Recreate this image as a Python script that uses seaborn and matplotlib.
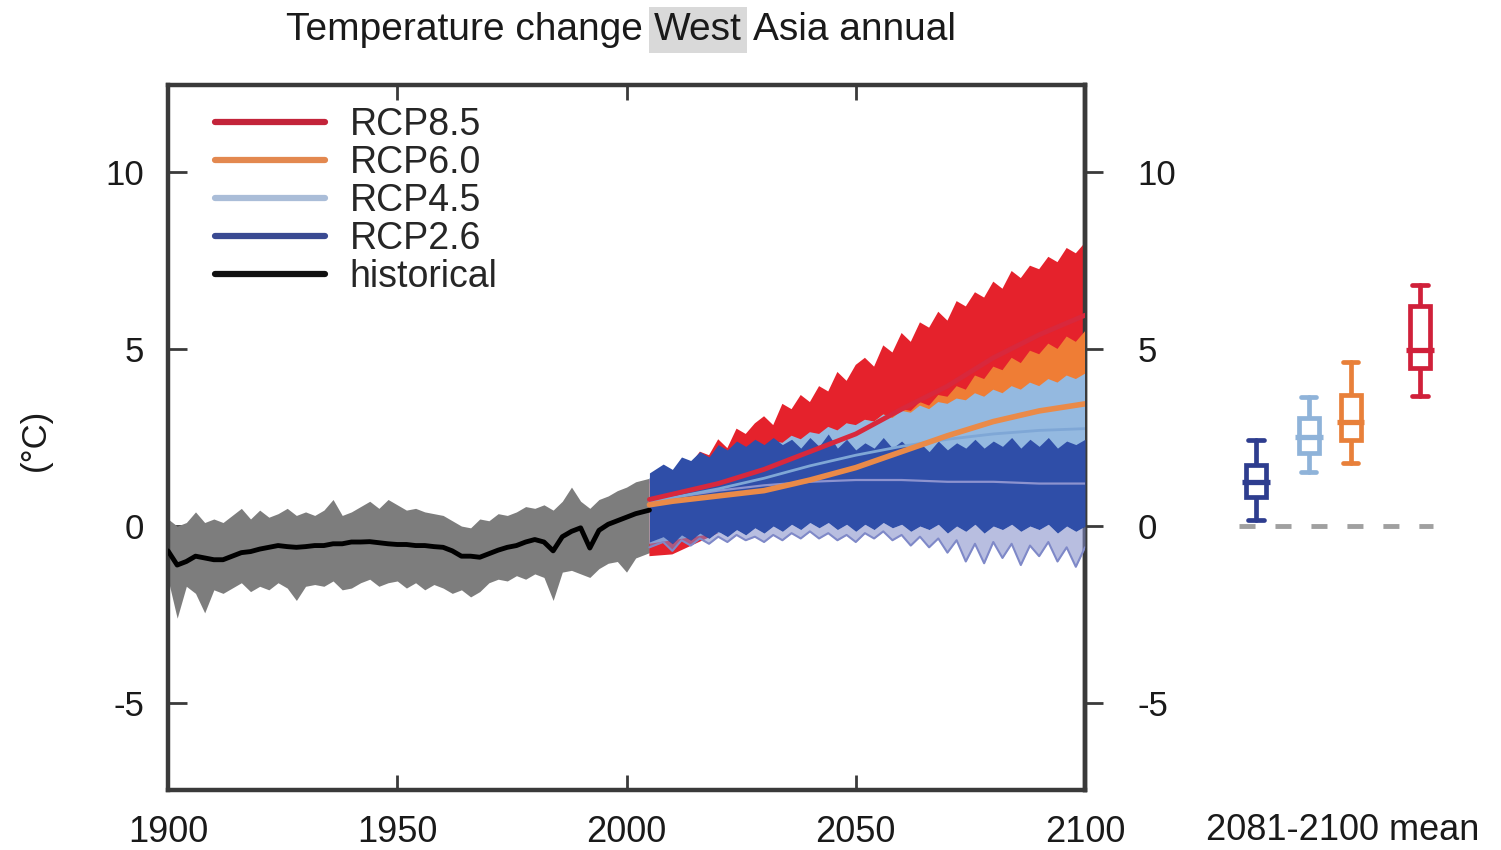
import numpy as np
import matplotlib
matplotlib.use("Agg")
import matplotlib.pyplot as plt
from matplotlib.lines import Line2D
import seaborn as sns

# ---------------- data (°C, relative to 1986-2005) ----------------
hist_years = np.append(np.arange(1900, 2003, 2), 2005)
hist_upper = [0.2, 0.0, 0.1, 0.4, 0.1, 0.2, 0.1, 0.3, 0.5, 0.2,
              0.45, 0.25, 0.35, 0.5, 0.3, 0.4, 0.3, 0.45, 0.75, 0.3,
              0.4, 0.55, 0.7, 0.5, 0.75, 0.6, 0.45, 0.5, 0.4, 0.35,
              0.3, 0.15, 0.0, -0.05, 0.2, 0.15, 0.35, 0.3, 0.4, 0.55,
              0.5, 0.6, 0.45, 0.7, 1.1, 0.7, 0.5, 0.75, 0.85, 1.0,
              1.1, 1.25, 1.35]
hist_lower = [-1.5, -2.6, -1.7, -1.9, -2.45, -1.8, -1.9, -1.75, -1.6, -1.85,
              -1.7, -1.8, -1.6, -1.75, -2.1, -1.7, -1.65, -1.7, -1.55, -1.8,
              -1.75, -1.6, -1.5, -1.7, -1.6, -1.55, -1.75, -1.6, -1.8, -1.65,
              -1.75, -1.9, -1.8, -2.0, -1.85, -1.6, -1.5, -1.55, -1.4, -1.5,
              -1.35, -1.45, -2.1, -1.3, -1.25, -1.35, -1.45, -1.2, -1.05, -1.0,
              -1.3, -0.9, -0.75]
hist_mean = [-0.7, -1.1, -1.0, -0.85, -0.9, -0.95, -0.95, -0.85, -0.75, -0.72,
             -0.65, -0.6, -0.55, -0.58, -0.6, -0.58, -0.55, -0.55, -0.5, -0.5,
             -0.45, -0.45, -0.44, -0.47, -0.5, -0.52, -0.52, -0.55, -0.55, -0.58,
             -0.6, -0.7, -0.85, -0.85, -0.88, -0.78, -0.68, -0.6, -0.55, -0.45,
             -0.38, -0.45, -0.7, -0.3, -0.15, -0.05, -0.62, -0.12, 0.05, 0.15,
             0.25, 0.35, 0.45]

proj_years = np.append(2005, np.arange(2008, 2101, 2))
coarse_years = [2005, 2010, 2020, 2030, 2040, 2050, 2060, 2070, 2080, 2090, 2100]

rcp85_upper = [1.3, 1.7, 1.45, 1.9, 1.75, 2.1, 2.0, 2.45, 2.2, 2.75,
               2.6, 2.9, 3.1, 2.85, 3.45, 3.3, 3.7, 3.5, 3.95, 3.8,
               4.35, 4.1, 4.55, 4.75, 4.5, 5.1, 4.9, 5.45, 5.2, 5.75,
               5.6, 6.05, 5.8, 6.35, 6.2, 6.6, 6.45, 6.9, 6.7, 7.2,
               7.0, 7.35, 7.25, 7.6, 7.45, 7.85, 7.7, 8.0]
rcp85_lower = [-0.85, -0.8, -0.2, 0.4, 1.0, 1.7, 2.4, 3.0, 3.5, 3.9, 4.2]
rcp85_mean = [0.75, 0.9, 1.2, 1.6, 2.1, 2.6, 3.3, 3.95, 4.75, 5.4, 5.95]

rcp60_upper = [1.2, 1.45, 1.3, 1.6, 1.5, 1.75, 1.6, 1.9, 1.8, 2.05,
               1.95, 2.2, 2.1, 2.35, 2.25, 2.5, 2.4, 2.6, 2.5, 2.75,
               2.65, 2.9, 2.8, 3.0, 2.95, 3.15, 3.1, 3.3, 3.25, 3.5,
               3.4, 3.7, 3.65, 3.95, 3.85, 4.25, 4.15, 4.5, 4.4, 4.75,
               4.6, 4.95, 4.85, 5.15, 5.0, 5.35, 5.2, 5.5]
rcp60_lower = [-0.4, -0.3, 0.0, 0.3, 0.6, 1.0, 1.4, 1.8, 2.1, 2.4, 2.6]
rcp60_mean = [0.6, 0.7, 0.85, 1.0, 1.3, 1.65, 2.1, 2.55, 2.95, 3.25, 3.45]

rcp45_upper = [1.35, 1.6, 1.5, 1.75, 1.65, 1.9, 1.8, 2.0, 1.95, 2.15,
               2.05, 2.3, 2.2, 2.4, 2.35, 2.55, 2.45, 2.65, 2.6, 2.8,
               2.7, 2.9, 2.85, 3.0, 2.95, 3.15, 3.05, 3.25, 3.2, 3.4,
               3.3, 3.5, 3.45, 3.6, 3.55, 3.75, 3.65, 3.85, 3.75, 3.95,
               3.85, 4.05, 3.95, 4.15, 4.05, 4.25, 4.15, 4.3]
rcp45_lower = [-0.5, -0.4, -0.2, 0.0, 0.3, 0.5, 0.7, 0.8, 0.9, 1.0, 1.0]
rcp45_mean = [0.7, 0.8, 1.05, 1.35, 1.7, 2.0, 2.25, 2.45, 2.6, 2.7, 2.75]

rcp26_upper = [1.5, 1.75, 1.6, 1.95, 1.85, 2.1, 1.95, 2.3, 2.15, 2.4,
               2.25, 2.45, 2.3, 2.5, 2.3, 2.45, 2.2, 2.5, 2.25, 2.6,
               2.2, 2.45, 2.15, 2.35, 2.2, 2.5, 2.2, 2.4, 2.15, 2.35,
               2.1, 2.4, 2.15, 2.35, 2.2, 2.45, 2.2, 2.4, 2.25, 2.5,
               2.2, 2.45, 2.25, 2.5, 2.2, 2.4, 2.3, 2.45]
rcp26_lower = [-0.45, -0.3, -0.5, -0.25, -0.4, -0.2, -0.35, -0.15, -0.3, -0.1,
               -0.25, -0.05, -0.2, 0.0, -0.15, 0.05, -0.1, 0.1, -0.05, 0.1,
               -0.1, 0.05, -0.15, 0.05, -0.1, 0.1, -0.05, 0.05, -0.15, 0.0,
               -0.1, 0.05, -0.2, 0.0, -0.15, 0.05, -0.2, 0.0, -0.1, 0.05,
               -0.15, 0.0, -0.1, 0.05, -0.2, 0.0, -0.15, 0.0]
rcp26_min = [-0.6, -0.45, -0.7, -0.4, -0.55, -0.35, -0.5, -0.3, -0.45, -0.25,
             -0.4, -0.3, -0.45, -0.25, -0.4, -0.2, -0.35, -0.15, -0.35, -0.2,
             -0.4, -0.25, -0.45, -0.2, -0.35, -0.15, -0.4, -0.25, -0.55, -0.3,
             -0.6, -0.35, -0.75, -0.4, -1.0, -0.5, -1.05, -0.45, -0.9, -0.5,
             -1.1, -0.55, -0.85, -0.45, -1.0, -0.6, -1.15, -0.6]
rcp26_mean = [0.7, 0.8, 1.0, 1.15, 1.25, 1.3, 1.3, 1.25, 1.25, 1.2, 1.2]

# 2081-2100 mean change: 5th, 25th, 50th, 75th, 95th percentiles
scenarios = ["RCP2.6", "RCP4.5", "RCP6.0", "RCP8.5"]
forcing = [2.6, 4.5, 6.0, 8.5]
box_p05 = [0.17, 1.53, 1.77, 3.67]
box_p25 = [0.83, 2.05, 2.43, 4.45]
box_p50 = [1.25, 2.52, 2.95, 4.97]
box_p75 = [1.72, 3.04, 3.70, 6.20]
box_p95 = [2.43, 3.65, 4.64, 6.81]

x_ticks = [1900, 1950, 2000, 2050, 2100]
y_ticks = [-5, 0, 5, 10]

# ---------------- style ----------------
sns.set_theme(style="white")
plt.rcParams["font.family"] = ["Liberation Sans", "DejaVu Sans"]
plt.rcParams["axes.unicode_minus"] = False

C_RED, C_ORANGE, C_LBLUE, C_BLUE, C_LAV = "#e5222c", "#ef7d35", "#94b9e0", "#2f4ea8", "#7f89c8"
C_GREY = "#7d7d7d"
BOX_COLORS = ["#2e3d8f", "#8fb3d9", "#e8803a", "#d0203a"]
LEG_COLORS = {"RCP8.5": "#c3243a", "RCP6.0": "#e3884f", "RCP4.5": "#aabdd8",
              "RCP2.6": "#3a4a92", "historical": "#111111"}
SPINE = "#3a3a3a"

fig = plt.figure(figsize=(15.01, 8.5), dpi=100)
ax = fig.add_axes([168 / 1501, 1 - 790 / 850, 917 / 1501, 705 / 850])
ylim = (-7.45, 12.45)

# historical ensemble spread and mean
ax.fill_between(hist_years, hist_lower, hist_upper, color=C_GREY, lw=0, zorder=1)


def spread(upper_x, upper, lower_x, lower, color, z):
    xs = np.concatenate([upper_x, np.asarray(lower_x)[::-1]])
    ys = np.concatenate([upper, np.asarray(lower)[::-1]])
    ax.fill(xs, ys, color=color, lw=0, zorder=z)


spread(proj_years, rcp85_upper, coarse_years, rcp85_lower, C_RED, 2)
spread(proj_years, rcp60_upper, coarse_years, rcp60_lower, C_ORANGE, 3)
spread(proj_years, rcp45_upper, coarse_years, rcp45_lower, C_LBLUE, 4)
ax.fill_between(proj_years, rcp26_min, rcp26_lower, color=C_LAV, alpha=0.55, lw=0, zorder=5)
ax.plot(proj_years, rcp26_min, color=C_LAV, lw=1.5, zorder=5)
ax.fill_between(proj_years, rcp26_lower, rcp26_upper, color=C_BLUE, lw=0, zorder=6)

sns.lineplot(x=coarse_years, y=rcp26_mean, color="#8d93cf", lw=1.6, ax=ax, zorder=7)
sns.lineplot(x=coarse_years, y=rcp45_mean, color="#7fa7d6", lw=2.0, ax=ax, zorder=7)
sns.lineplot(x=coarse_years, y=rcp60_mean, color="#ea8a48", lw=4.0, ax=ax, zorder=8)
sns.lineplot(x=coarse_years, y=rcp85_mean, color="#d8283c", lw=3.5, ax=ax, zorder=9)
sns.lineplot(x=hist_years, y=hist_mean, color="black", lw=3.5, ax=ax, zorder=10)

ax.set_xlim(1900, 2100)
ax.set_ylim(*ylim)
ax.set_xticks(x_ticks)
ax.set_yticks(y_ticks)
ax.set_xlabel("")
ax.set_ylabel("")
for s in ax.spines.values():
    s.set_color(SPINE)
    s.set_linewidth(3.2)
    s.set_visible(True)
ax.tick_params(axis="x", direction="in", length=11, width=2, color=SPINE,
               top=True, bottom=True, labelsize=26, pad=18, labelcolor="#1a1a1a")
ax.tick_params(axis="y", direction="in", length=14, width=2, color=SPINE,
               left=True, right=False, labelsize=25, pad=17, labelcolor="#1a1a1a")

# right-hand temperature scale
sec = ax.secondary_yaxis("right")
sec.set_yticks(y_ticks)
sec.tick_params(direction="out", length=13, width=2, color=SPINE,
                labelsize=25, pad=25, labelcolor="#1a1a1a")
sec.spines["right"].set_color(SPINE)
sec.spines["right"].set_linewidth(3.2)

handles = [Line2D([], [], color=c, lw=4.5) for c in LEG_COLORS.values()]
ax.legend(handles, list(LEG_COLORS.keys()), loc="upper left",
          bbox_to_anchor=(0.051, 0.9685), frameon=False, fontsize=27,
          borderpad=0, borderaxespad=0, labelspacing=0.05,
          handlelength=2.93, handletextpad=0.67)

fig.text(35 / 1501, 1 - 440 / 850, "(°C)", rotation=90, ha="center", va="center",
         fontsize=25, color="#1a1a1a")

# 2081-2100 mean box plots
ax2 = fig.add_axes([1200 / 1501, 1 - 790 / 850, 286 / 1501, 705 / 850])
ax2.set_xlim(0.586, 10.87)
ax2.set_ylim(*ylim)
ax2.axis("off")
ax2.hlines(0, 2.0, 8.95, colors="#a0a0a0", lw=3.5, linestyles=(0, (3.3, 4.1)))
stats = [dict(med=m, q1=a, q3=b, whislo=lo, whishi=hi, label=s)
         for s, lo, a, m, b, hi in zip(scenarios, box_p05, box_p25, box_p50, box_p75, box_p95)]
bp = ax2.bxp(stats, positions=forcing, widths=0.72, capwidths=0.55,
             showfliers=False, patch_artist=True, manage_ticks=False)
for i, col in enumerate(BOX_COLORS):
    bp["boxes"][i].set(facecolor="white", edgecolor=col, linewidth=3.4, zorder=3)
    for ln in bp["whiskers"][2 * i:2 * i + 2] + bp["caps"][2 * i:2 * i + 2]:
        ln.set(color=col, linewidth=3.4, zorder=2)
    bp["medians"][i].set(visible=False)
ax2.hlines(box_p50, np.array(forcing) - 0.5, np.array(forcing) + 0.5,
           colors=BOX_COLORS, lw=3.8, zorder=4)

fig.text(1343 / 1501, 1 - 831 / 850, "2081-2100 mean", ha="center", va="center",
         fontsize=26, color="#1a1a1a")

# title with highlighted region name
fig.canvas.draw()
rend = fig.canvas.get_renderer()
parts = ["Temperature change", "West", "Asia annual"]
tsize = 28
tmp = [fig.text(0, 0, p, fontsize=tsize) for p in parts + ["a a", "aa"]]
widths = [t.get_window_extent(rend).width for t in tmp]
for t in tmp:
    t.remove()
space = widths[3] - widths[4]
total = widths[0] + widths[1] + widths[2] + 2 * space
x0 = 621 - total / 2
ybase = 1 - 40 / 850
xs = [x0, x0 + widths[0] + space, x0 + widths[0] + widths[1] + 2 * space]
for p, xp in zip(parts, xs):
    kw = {}
    if p == "West":
        kw["bbox"] = dict(boxstyle="square,pad=0.12", fc="#d9d9d9", ec="none")
    fig.text(xp / 1501, ybase, p, fontsize=tsize, va="baseline", ha="left",
             color="#1a1a1a", **kw)

fig.savefig("out.png", dpi=100)
